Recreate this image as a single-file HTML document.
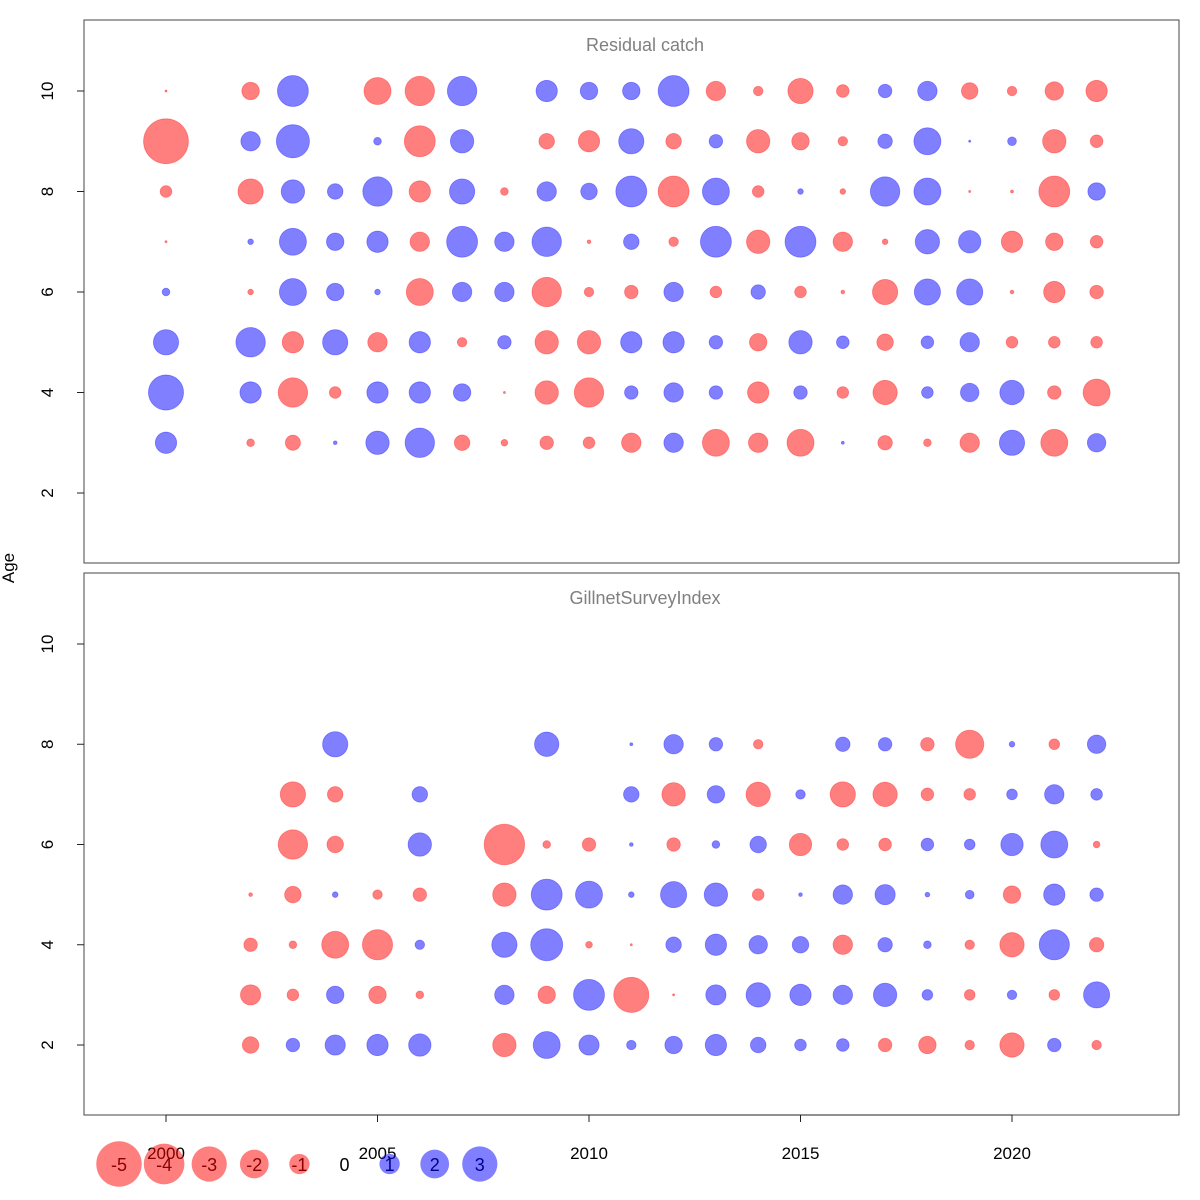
<!DOCTYPE html>
<html><head><meta charset="utf-8">
<style>
html,body{margin:0;padding:0;background:#fff;}
svg{display:block;font-family:"Liberation Sans",sans-serif;}
</style></head>
<body>
<svg id="chart" width="1200" height="1200" viewBox="0 0 1200 1200">
<rect x="0" y="0" width="1200" height="1200" fill="#fff"/>
<g id="marks"></g>
</svg>
<script>
const years1 = [2000,2002,2003,2004,2005,2006,2007,2008,2009,2010,2011,2012,2013,2014,2015,2016,2017,2018,2019,2020,2021,2022];
const ages1 = [10,9,8,7,6,5,4,3];
// values per year, ordered by ages1 (null = missing)
const catchResid = [
 [-0.01,-4.4,-0.3,-0.01,0.13,1.4,2.7,1.0],
 [-0.67,0.83,-1.4,0.07,-0.07,1.9,1.0,-0.13],
 [2.1,2.4,1.2,1.6,1.6,-1.0,-1.9,-0.5],
 [null,null,0.53,0.67,0.67,1.4,-0.3,0.03],
 [-1.6,0.13,1.9,1.0,0.07,-0.83,1.0,1.2],
 [-1.9,-2.1,-1.0,-0.83,-1.6,1.0,1.0,1.9],
 [1.9,1.2,1.4,2.1,0.83,-0.2,0.67,-0.53],
 [null,null,-0.13,0.83,0.83,0.4,-0.01,-0.1],
 [1.0,-0.53,0.83,1.9,-1.9,-1.2,-1.2,-0.4],
 [0.67,-1.0,0.6,-0.03,-0.2,-1.2,-1.9,-0.3],
 [0.67,1.4,2.1,0.53,-0.4,1.0,0.4,-0.83],
 [2.1,-0.53,-2.1,-0.2,0.83,1.0,0.83,0.83],
 [-0.83,0.4,1.6,2.1,-0.3,0.4,0.4,-1.6],
 [-0.2,-1.2,-0.3,-1.2,0.46,-0.67,-1.0,-0.83],
 [-1.4,-0.67,0.07,2.1,-0.3,1.2,0.4,-1.6],
 [-0.35,-0.2,-0.07,-0.83,-0.03,0.35,-0.3,0.02],
 [0.4,0.46,1.9,-0.07,-1.4,-0.6,-1.3,-0.46],
 [0.83,1.6,1.6,1.3,1.5,0.35,0.3,-0.13],
 [-0.6,0.01,-0.01,1.1,1.5,0.83,0.75,-0.83],
 [-0.2,0.17,-0.02,-1.0,-0.03,-0.3,1.3,1.4],
 [-0.75,-1.2,-2.1,-0.67,-1.0,-0.3,-0.4,-1.6],
 [-1.0,-0.35,0.67,-0.35,-0.4,-0.3,-1.6,0.75]
];
const years2 = [2002,2003,2004,2005,2006,2008,2009,2010,2011,2012,2013,2014,2015,2016,2017,2018,2019,2020,2021,2022];
const ages2 = [8,7,6,5,4,3,2];
const surveyResid = [
 [null,null,null,-0.03,-0.4,-0.9,-0.6],
 [null,-1.4,-1.9,-0.6,-0.13,-0.3,0.4],
 [1.4,-0.53,-0.6,0.07,-1.6,0.67,0.9],
 [null,null,null,-0.2,-2.0,-0.67,1.0],
 [null,0.53,1.2,-0.4,0.2,-0.13,1.1],
 [null,null,-3.6,-1.2,1.4,0.83,-1.2],
 [1.3,null,-0.13,2.1,2.25,-0.67,1.6],
 [null,null,-0.4,1.6,-0.1,2.1,0.9],
 [0.02,0.53,0.03,0.07,-0.01,-2.7,0.2],
 [0.83,-1.2,-0.4,1.5,0.53,-0.01,0.67],
 [0.4,0.67,0.13,1.2,1.0,0.9,1.0],
 [-0.2,-1.3,0.6,-0.3,0.75,1.3,0.53],
 [null,0.2,-1.1,0.03,0.6,1.0,0.3],
 [0.46,-1.4,-0.3,0.83,-0.83,0.83,0.35],
 [0.4,-1.3,-0.35,0.9,0.46,1.2,-0.4],
 [-0.4,-0.35,0.35,0.05,0.13,0.25,-0.67],
 [-1.75,-0.3,0.25,0.17,-0.2,-0.25,-0.2],
 [0.07,0.25,1.1,-0.67,-1.3,0.2,-1.3],
 [-0.25,0.83,1.6,1.0,2.0,-0.25,0.4],
 [0.75,0.3,-0.1,0.4,-0.46,1.5,-0.2]
];
const xTicks = [2000,2005,2010,2015,2020];
const yTicks = [2,4,6,8,10];
const legendVals = [-5,-4,-3,-2,-1,0,1,2,3];

const NS="http://www.w3.org/2000/svg";
const svg=document.getElementById('marks');
function mk(tag,attrs,parent){const e=document.createElementNS(NS,tag);for(const k in attrs)e.setAttribute(k,attrs[k]);(parent||svg).appendChild(e);return e;}
const xScale=y=>166+(y-2000)*42.3;
const K=10.7;
const rScale=v=>K*Math.sqrt(Math.abs(v));
const panels=[
 {top:20,bottom:563,y10:91,y2:493,title:'Residual catch',years:years1,ages:ages1,vals:catchResid,name:'residual-catch-panel'},
 {top:573,bottom:1115,y10:644,y2:1045,title:'GillnetSurveyIndex',years:years2,ages:ages2,vals:surveyResid,name:'gillnet-survey-panel'}
];
panels.forEach((p,pi)=>{
 const g=mk('g',{});
 
 
 const yS=a=>p.y2+(a-2)*(p.y10-p.y2)/8;
 const fr=mk('rect',{x:84,y:p.top,width:1095,height:p.bottom-p.top,fill:'none',stroke:'#444','stroke-width':1},g);
 
 
 const t=mk('text',{x:645,y:p.top+31,'text-anchor':'middle','font-size':18,fill:'#808080'},g);
 t.textContent=p.title;
 
 
 yTicks.forEach(v=>{
  const y=yS(v);
  mk('line',{x1:77,x2:84,y1:y,y2:y,stroke:'#222'},g);
  const l=mk('text',{x:0,y:0,transform:`translate(53,${y}) rotate(-90)`,'text-anchor':'middle','font-size':17,fill:'#000'},g);
  l.textContent=v;
  
  
 });
 p.years.forEach((yr,i)=>{
  p.ages.forEach((a,j)=>{
   const v=p.vals[i][j];
   if(v===null||v===undefined)return;
   const c=mk('circle',{cx:xScale(yr),cy:yS(a),r:Math.max(rScale(v),0.5),
     fill:v<0?'rgba(255,0,0,0.5)':'rgba(0,0,255,0.5)',stroke:v<0?'rgba(255,0,0,0.35)':'rgba(0,0,255,0.35)','stroke-width':0.8},g);
   
   
  });
 });
});
// x axis
mk('line',{x1:166,x2:xScale(2020),y1:1115,y2:1115,stroke:'#222'});
xTicks.forEach(v=>{
 mk('line',{x1:xScale(v),x2:xScale(v),y1:1115,y2:1122,stroke:'#222'});
 const l=mk('text',{x:xScale(v),y:1159,'text-anchor':'middle','font-size':17,fill:'#000'});
 l.textContent=v;
 
 
});
const ya=mk('text',{x:0,y:0,transform:'translate(14,568) rotate(-90)','text-anchor':'middle','font-size':17,fill:'#000'});
ya.textContent='Age';


const xa=mk('text',{x:630,y:1214,'text-anchor':'middle','font-size':17,fill:'#000'});
xa.textContent='Year';


// legend
legendVals.forEach((v,i)=>{
 const cx=119+i*45.1;
 if(v!==0){
  const c=mk('circle',{cx:cx,cy:1164,r:rScale(v)*0.95,fill:v<0?'rgba(255,0,0,0.5)':'rgba(0,0,255,0.5)',stroke:'none'});
  
  
 }
 const t=mk('text',{x:cx,y:1171,'text-anchor':'middle','font-size':18,fill:v<0?'#8b0000':(v>0?'#00008b':'#000')});
 t.textContent=v;
 
 
});
</script>
</body></html>
